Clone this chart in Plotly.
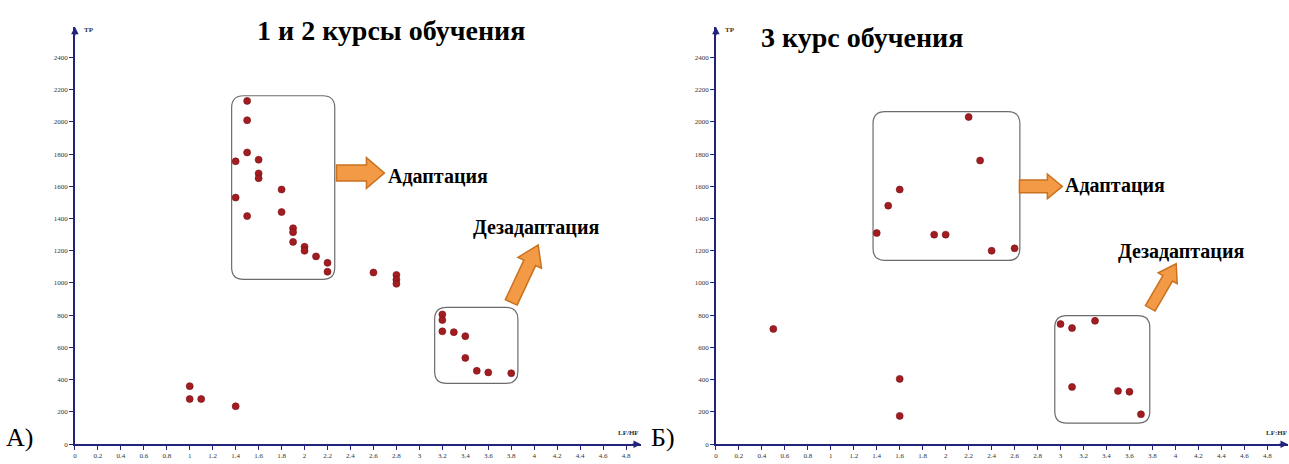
import math
import plotly.graph_objects as go

W, H = 1289, 464

# ---------------- data ----------------
# Panel A: 1 и 2 курсы обучения
lfhf_12 = [1.5, 1.5, 1.5, 1.4, 1.6, 1.6, 1.6, 1.8, 1.4, 1.5, 1.8, 1.9, 1.9, 1.9, 2.0, 2.0, 2.1, 2.2, 2.2,
           2.6, 2.8, 2.8, 2.8,
           3.2, 3.2, 3.2, 3.3, 3.4, 3.4, 3.5, 3.6, 3.8,
           1.0, 1.0, 1.1, 1.4]
tp_12 = [2130, 2010, 1810, 1755, 1765, 1680, 1650, 1580, 1530, 1415, 1440, 1340, 1315, 1255, 1225, 1200, 1165, 1125, 1070,
         1065, 1050, 1020, 995,
         805, 770, 700, 695, 670, 535, 455, 445, 440,
         360, 280, 280, 235]

# Panel Б: 3 курс обучения
lfhf_3 = [2.2, 2.3, 1.6, 1.5, 1.4, 1.9, 2.0, 2.4, 2.6,
          0.5, 1.6, 1.6,
          3.0, 3.1, 3.3, 3.1, 3.5, 3.6, 3.7]
tp_3 = [2030, 1760, 1580, 1480, 1310, 1300, 1300, 1200, 1215,
        715, 405, 175,
        745, 720, 765, 355, 330, 325, 185]

x_ticks = [0, 0.2, 0.4, 0.6, 0.8, 1, 1.2, 1.4, 1.6, 1.8, 2, 2.2, 2.4, 2.6, 2.8, 3, 3.2, 3.4, 3.6, 3.8,
           4, 4.2, 4.4, 4.6, 4.8]
x_tick_labels = ["0", "0.2", "0.4", "0.6", "0.8", "1", "1.2", "1.4", "1.6", "1.8", "2", "2.2", "2.4", "2.6",
                 "2.8", "3", "3.2", "3.4", "3.6", "3.8", "4", "4.2", "4.4", "4.6", "4.8"]
y_ticks = [0, 200, 400, 600, 800, 1000, 1200, 1400, 1600, 1800, 2000, 2200, 2400]
y_tick_labels = [str(v) for v in y_ticks]

titles = ["1 и 2 курсы обучения", "3 курс обучения"]
panel_labels = ["А)", "Б)"]
zone_labels = ["Адаптация", "Дезадаптация"]

# ---------------- style ----------------
AXIS = "#23237a"
DOT = "#a11d22"
ORANGE = "#f39a47"
ORANGE_EDGE = "#c9711f"
SERIF = "Liberation Serif"


def px(x):
    return x / W


def py(y):
    return 1 - y / H


fig = go.Figure()

fig.add_trace(go.Scatter(x=lfhf_12, y=tp_12, mode="markers", xaxis="x", yaxis="y",
                         marker=dict(size=7, color=DOT, line=dict(width=0.6, color="#7a0f14")),
                         showlegend=False, hoverinfo="x+y"))
fig.add_trace(go.Scatter(x=lfhf_3, y=tp_3, mode="markers", xaxis="x2", yaxis="y2",
                         marker=dict(size=7, color=DOT, line=dict(width=0.6, color="#7a0f14")),
                         showlegend=False, hoverinfo="x+y"))

ydom = [16 / H, 437 / H]
yrange = [0, 2590]
ax_common = dict(showgrid=False, zeroline=False, showline=True, linecolor=AXIS, linewidth=1.5,
                 ticks="outside", ticklen=4, tickcolor=AXIS, tickwidth=1,
                 tickfont=dict(family=SERIF, size=7, color="#333"), fixedrange=True)

fig.update_layout(
    width=W, height=H, margin=dict(l=0, r=0, t=0, b=0),
    paper_bgcolor="white", plot_bgcolor="white", showlegend=False,
    font=dict(family=SERIF),
    xaxis=dict(domain=[73 / W, 640 / W], range=[0, 4.93], anchor="y",
               tickvals=x_ticks, ticktext=x_tick_labels, **ax_common),
    yaxis=dict(domain=ydom, range=yrange, anchor="x",
               tickvals=y_ticks, ticktext=y_tick_labels, **ax_common),
    xaxis2=dict(domain=[715 / W, 1288 / W], range=[0, 4.98], anchor="y2",
                tickvals=x_ticks, ticktext=x_tick_labels, **ax_common),
    yaxis2=dict(domain=ydom, range=yrange, anchor="x2",
                tickvals=y_ticks, ticktext=y_tick_labels, **ax_common),
)

shapes = []
annotations = []


def rounded_box(xr, yr, x0, x1, y0, y1, rx_px, kx, ky):
    rx = rx_px / kx
    ry = rx_px / ky
    p = (f"M {x0 + rx},{y1} L {x1 - rx},{y1} Q {x1},{y1} {x1},{y1 - ry} "
         f"L {x1},{y0 + ry} Q {x1},{y0} {x1 - rx},{y0} "
         f"L {x0 + rx},{y0} Q {x0},{y0} {x0},{y0 + ry} "
         f"L {x0},{y1 - ry} Q {x0},{y1} {x0 + rx},{y1} Z")
    return dict(type="path", path=p, xref=xr, yref=yr, line=dict(color="#6b6b6b", width=1.2),
                fillcolor="rgba(0,0,0,0)", layer="below")


kx = 115.0
ky = 421 / 2590
# boxes (data coordinates)
shapes.append(rounded_box("x", "y", 1.365, 2.263, 1023, 2162, 12, kx, ky))
shapes.append(rounded_box("x", "y", 3.133, 3.858, 377, 849, 12, kx, ky))
shapes.append(rounded_box("x2", "y2", 1.368, 2.646, 1140, 2063, 12, kx, ky))
shapes.append(rounded_box("x2", "y2", 2.95, 3.777, 131, 798, 12, kx, ky))


def block_arrow(x0, y0, x1, y1, shaft_w, head_w, head_len):
    dx, dy = x1 - x0, y1 - y0
    L = math.hypot(dx, dy)
    ux, uy = dx / L, dy / L
    nx, ny = -uy, ux
    bx, by = x1 - ux * head_len, y1 - uy * head_len
    pts = [
        (x0 + nx * shaft_w / 2, y0 + ny * shaft_w / 2),
        (bx + nx * shaft_w / 2, by + ny * shaft_w / 2),
        (bx + nx * head_w / 2, by + ny * head_w / 2),
        (x1, y1),
        (bx - nx * head_w / 2, by - ny * head_w / 2),
        (bx - nx * shaft_w / 2, by - ny * shaft_w / 2),
        (x0 - nx * shaft_w / 2, y0 - ny * shaft_w / 2),
    ]
    path = "M " + " L ".join(f"{px(a):.5f},{py(b):.5f}" for a, b in pts) + " Z"
    return dict(type="path", path=path, xref="paper", yref="paper",
                fillcolor=ORANGE, line=dict(color=ORANGE_EDGE, width=1.5))


shapes.append(block_arrow(335, 174.5, 383, 174.5, 16, 31, 18))
shapes.append(block_arrow(510, 305, 537, 247, 13, 26, 20))
shapes.append(block_arrow(1019, 188, 1062, 188, 13, 25, 15))
shapes.append(block_arrow(1150, 311, 1176, 266, 11, 22, 17))

# axis arrowheads
for xr, yr, xend in [("x", "y", 4.93), ("x2", "y2", 4.98)]:
    annotations.append(dict(x=xend, y=0, xref=xr, yref=yr, ax=-10, ay=0, text="", showarrow=True,
                            arrowhead=2, arrowsize=1, arrowwidth=1.5, arrowcolor=AXIS))
    annotations.append(dict(x=0, y=2590, xref=xr, yref=yr, ax=0, ay=10, text="", showarrow=True,
                            arrowhead=2, arrowsize=1, arrowwidth=1.5, arrowcolor=AXIS))


def text(x, y, s, size, bold=False, xanchor="center", color="black"):
    annotations.append(dict(x=px(x), y=py(y), xref="paper", yref="paper", text=f"<b>{s}</b>" if bold else s,
                            showarrow=False, xanchor=xanchor, yanchor="middle",
                            font=dict(family=SERIF, size=size, color=color)))


text(390, 31, titles[0], 28, bold=True)
text(861, 38, titles[1], 28, bold=True)
text(385, 178, zone_labels[0], 20, bold=True, xanchor="left")
text(470, 229, zone_labels[1], 20, bold=True, xanchor="left")
text(1063, 187, zone_labels[0], 20, bold=True, xanchor="left")
text(1116, 254, zone_labels[1], 20, bold=True, xanchor="left")
text(2, 441, panel_labels[0], 26, xanchor="left")
text(648, 441, panel_labels[1], 26, xanchor="left")
text(80, 30, "<b>TP</b>", 7, xanchor="left", color="#333")
text(722, 30, "<b>TP</b>", 7, xanchor="left", color="#333")
text(640, 437, "<b>LF/HF</b>", 7, xanchor="right", color="#333")
text(1289, 437, "<b>LF:HF</b>", 7, xanchor="right", color="#333")

fig.update_layout(shapes=shapes, annotations=annotations)

fig.write_html("out.html")
